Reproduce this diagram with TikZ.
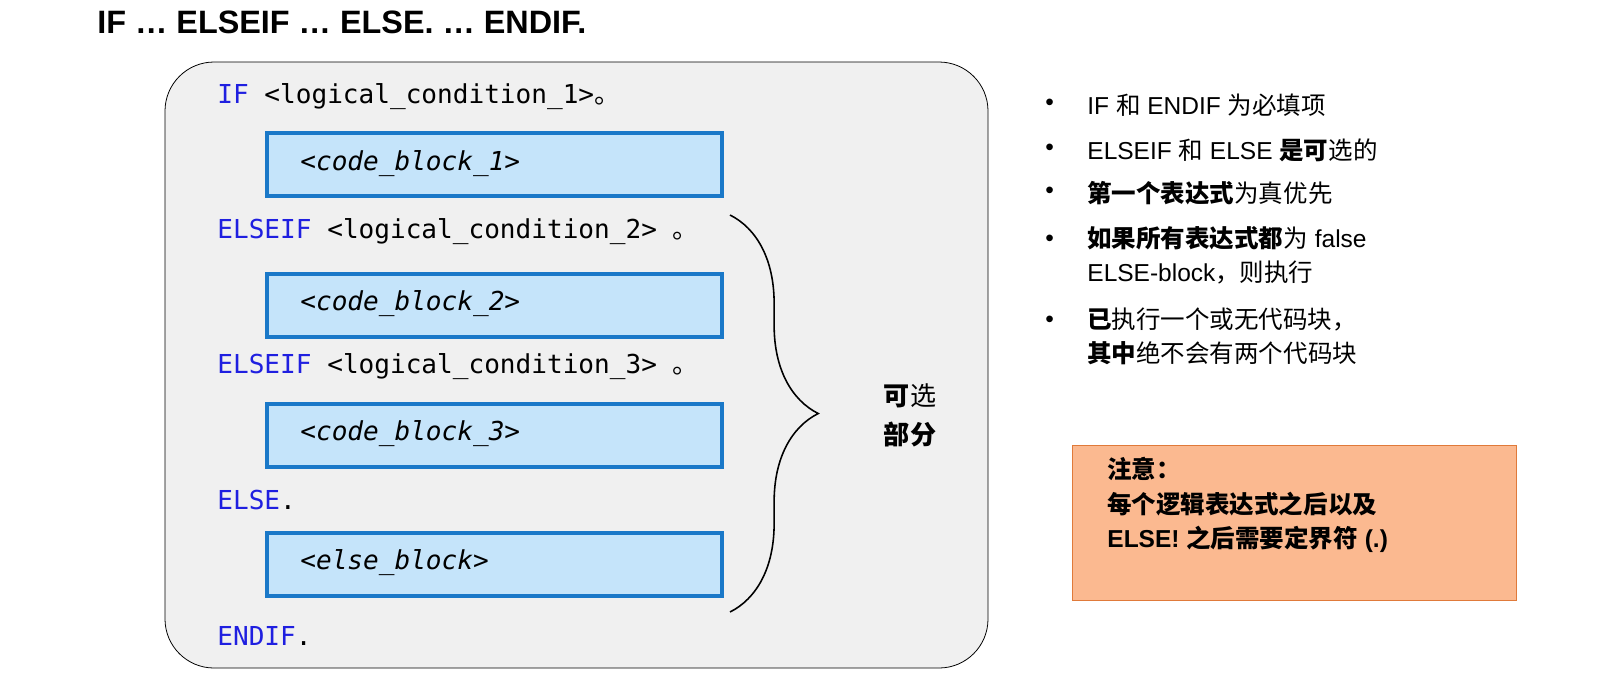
\documentclass[tikz,border=0pt]{standalone}
\usepackage{fontspec}
\setmainfont{Liberation Sans}
\setmonofont{DejaVu Sans Mono}
\newfontfamily\cjk{Noto Sans CJK SC}
\usetikzlibrary{decorations.pathreplacing}
\definecolor{kwblue}{HTML}{1F1FE0}
\definecolor{blockfill}{HTML}{C5E4FA}
\definecolor{blockline}{HTML}{1A78C8}
\definecolor{notefill}{HTML}{FBB990}
\definecolor{noteline}{HTML}{E07A3A}
\newcommand{\kw}[1]{\textcolor{kwblue}{#1}}
\begin{document}
\begin{tikzpicture}[x=0.51pt, y=-0.51pt,
  codeline/.style = {anchor=west, font=\ttfamily\fontsize{13.3}{15}\selectfont, inner sep=0pt},
  codeblock/.style = {draw=blockline, line width=2pt, fill=blockfill, minimum width=232pt, minimum height=32pt, anchor=north west, inner sep=0pt},
  blocktext/.style = {anchor=west, font=\ttfamily\itshape\fontsize{13.3}{15}\selectfont, inner sep=0pt},
  bullet/.style = {anchor=west, font=\fontsize{12.5}{17.5}\selectfont, inner sep=0pt, align=left}]
\useasboundingbox (0,0) rectangle (1600,693);
\node[anchor=west, inner sep=0pt, font=\bfseries\fontsize{16.5}{18}\selectfont] (title) at (97,22) {IF … ELSEIF … ELSE. … ENDIF.};
\draw[fill=black!6, rounded corners=25pt] (165,62) rectangle (988,668);
\node[codeline] (if) at (217,97) {\kw{IF} <logical\_condition\_1>\cjk{。}};
\node[codeblock] (b1) at (265,131) {};
\node[blocktext] at (300,164) {<code\_block\_1>};
\node[codeline] (elif1) at (217,232) {\kw{ELSEIF} <logical\_condition\_2> \cjk{。}};
\node[codeblock] (b2) at (265,272) {};
\node[blocktext] at (300,304) {<code\_block\_2>};
\node[codeline] (elif2) at (217,367) {\kw{ELSEIF} <logical\_condition\_3> \cjk{。}};
\node[codeblock] (b3) at (265,402) {};
\node[blocktext] at (300,434) {<code\_block\_3>};
\node[codeline] (else) at (217,500) {\kw{ELSE}.};
\node[codeblock] (b4) at (265,531) {};
\node[blocktext] at (300,563) {<else\_block>};
\node[codeline] (endif) at (217,636) {\kw{ENDIF}.};
\coordinate (bracetop) at (730,215);
\coordinate (bracebot) at (730,612);
\draw[thick, decorate, decoration={brace, amplitude=45pt, aspect=0.5}] (bracetop) -- (bracebot);
\node[align=center, font=\cjk\fontsize{13.3}{20}\selectfont] (opt) at (910,415) {\textbf{可}选\\\textbf{部分}};
\foreach \y in {105,150,193,241,322}
  \node[bullet] at (1045,\y) {•};
\node[bullet] (t1) at (1087,105) {IF {\cjk 和} ENDIF {\cjk 为必填项}};
\node[bullet] (t2) at (1087,150) {ELSEIF {\cjk 和} ELSE {\cjk\bfseries 是可}{\cjk 选的}};
\node[bullet] (t3) at (1087,193) {{\cjk\bfseries 第一个表达式}{\cjk 为真优先}};
\node[bullet, anchor=north west] (t4) at (1087,226) {{\cjk\bfseries 如果所有表达式都}{\cjk 为} false\\ELSE-block{\cjk ，则执行}};
\node[bullet, anchor=north west] (t5) at (1087,307) {{\cjk\bfseries 已}{\cjk 执行一个或无代码块，}\\{\cjk\bfseries 其中}{\cjk 绝不会有两个代码块}};
\draw[draw=noteline, fill=notefill] (1072,445) rectangle (1516,600);
\node[anchor=north west, inner sep=0pt, align=left, font=\bfseries\fontsize{12.5}{17.5}\selectfont] (note) at (1107,457) {{\cjk 注意：}\\{\cjk 每个逻辑表达式之后以及}\\ELSE! {\cjk 之后需要定界符} (.)};
\end{tikzpicture}
\end{document}
